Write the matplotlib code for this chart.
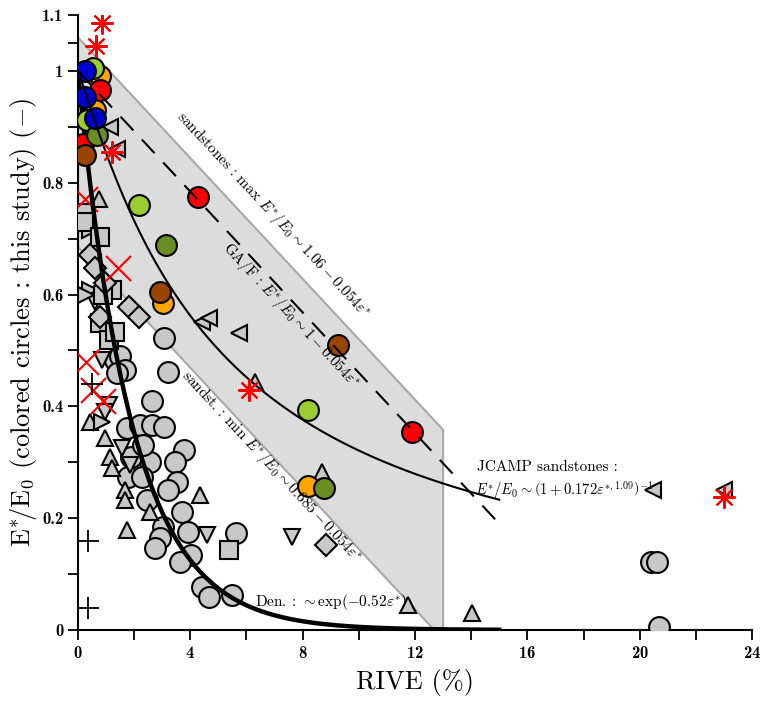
import numpy as np
import matplotlib
matplotlib.use("Agg")
from matplotlib import pyplot as plt
from matplotlib.patches import Polygon

plt.rcParams['font.family'] = 'cmr10'
plt.rcParams['mathtext.fontset'] = 'cm'
plt.rcParams['axes.formatter.use_mathtext'] = True

# this study (colored circles): RIVE (%) and E*/E0
blueX = [0.25, 0.25, 0.6]
blueY = [1.0, 0.953, 0.916]
lgreenX = [0.53, 0.32, 2.16, 8.19]
lgreenY = [1.005, 0.912, 0.76, 0.394]
orangeX = [0.78, 0.6, 3.01, 8.19]
orangeY = [0.99, 0.93, 0.585, 0.258]
redX = [0.78, 0.18, 4.29, 11.88]
redY = [0.966, 0.87, 0.775, 0.354]
dgreenX = [0.67, 3.12, 8.76]
dgreenY = [0.885, 0.689, 0.254]
brownX = [0.25, 2.91, 9.26]
brownY = [0.85, 0.605, 0.51]

# literature data (grey symbols)
circX = [1.31, 1.5, 1.67, 1.38, 3.07, 3.19, 2.62, 1.74, 2.2, 2.62, 3.05, 3.79, 3.44, 2.55,
         1.77, 2.27, 3.51, 3.19, 2.45, 3.72, 3.01, 3.9, 2.91, 2.73, 4.04, 3.62, 4.43, 4.68,
         5.5, 5.64, 20.4, 20.6, 20.7, 1.9, 2.3]
circY = [0.483, 0.49, 0.465, 0.46, 0.522, 0.462, 0.41, 0.361, 0.367, 0.367, 0.363, 0.322, 0.30, 0.30,
         0.274, 0.274, 0.265, 0.25, 0.233, 0.211, 0.184, 0.175, 0.164, 0.147, 0.134, 0.122, 0.077, 0.059,
         0.063, 0.173, 0.122, 0.122, 0.005, 0.31, 0.33]
triUpX = [0.74, 0.43, 0.96, 1.13, 1.67, 1.67, 1.74, 2.55, 4.33, 6.31, 8.69, 11.74, 14.04, 1.2]
triUpY = [0.77, 0.372, 0.343, 0.31, 0.25, 0.233, 0.179, 0.211, 0.241, 0.444, 0.283, 0.045, 0.03, 0.29]
triDownX = [0.6, 0.85, 1.1, 1.56, 1.84, 4.61, 7.62, 0.95]
triDownY = [0.587, 0.483, 0.402, 0.326, 0.295, 0.17, 0.166, 0.39]
triLeftX = [1.13, 1.38, 4.4, 4.68, 5.74, 20.46, 23.0]
triLeftY = [0.90, 0.86, 0.551, 0.558, 0.531, 0.25, 0.25]
triRightX = [0.43, 0.43, 0.85, 0.3]
triRightY = [0.716, 0.608, 0.372, 0.60]
sqX = [0.25, 0.2, 0.78, 1.2, 0.78, 1.1, 1.31, 5.39, 0.9]
sqY = [0.746, 0.73, 0.703, 0.608, 0.549, 0.519, 0.533, 0.143, 0.6]
diaX = [0.43, 0.6, 0.78, 1.81, 2.16, 8.83, 0.95]
diaY = [0.671, 0.648, 0.56, 0.578, 0.56, 0.152, 0.62]
starX = [0.85, 0.64, 1.2, 6.1, 23.0]
starY = [1.086, 1.045, 0.855, 0.43, 0.238]
crossX = [0.25, 1.42, 0.3, 0.55, 0.9]
crossY = [0.77, 0.648, 0.48, 0.43, 0.41]
plusX = [0.35, 0.35, 0.5]
plusY = [0.16, 0.04, 0.44]

# fits
maxA, minA, slope = 1.06, 0.685, 0.054
xEnd = 13
xFit = np.linspace(0, 15, 300)

fig = plt.figure(figsize=(7.63, 7.12), dpi=100)
ax = fig.add_axes([0.1022, 0.1152, 0.8834, 0.8638])

# sandstones envelope
poly = [(0, maxA), (xEnd, maxA - slope * xEnd), (xEnd, 0), (minA / slope, 0), (0, minA)]
ax.add_patch(Polygon(poly, closed=True, facecolor='#dcdcdc', edgecolor='#a8a8a8', lw=1.5, zorder=1))

grey = '#c8c8c8'
kw = dict(linestyle='none', markerfacecolor=grey, markeredgecolor='black', markeredgewidth=1.5, zorder=3)
ax.plot(circX, circY, 'o', markersize=15, **kw)
ax.plot(triUpX, triUpY, '^', markersize=12, **kw)
ax.plot(triDownX, triDownY, 'v', markersize=12, **kw)
ax.plot(triLeftX, triLeftY, '<', markersize=12, **kw)
ax.plot(triRightX, triRightY, '>', markersize=12, **kw)
ax.plot(sqX, sqY, 's', markersize=13, **kw)
ax.plot(diaX, diaY, 'D', markersize=11, **kw)

ax.plot(crossX, crossY, 'x', color='red', markersize=18, mew=1.5, zorder=4)
ax.plot(plusX, plusY, '+', color='black', markersize=16, mew=1.3, zorder=4)

# Den. fit sits under the coloured circles
ax.plot(xFit, np.exp(-0.52 * xFit), color='black', lw=3.2, zorder=4.5)

ck = dict(linestyle='none', marker='o', markersize=15, markeredgecolor='black', markeredgewidth=1.5, zorder=5)
ax.plot(orangeX, orangeY, markerfacecolor='#ffa500', **ck)
ax.plot(redX, redY, markerfacecolor='#ff0000', **ck)
ax.plot(lgreenX, lgreenY, markerfacecolor='#9acd32', **ck)
ax.plot(dgreenX, dgreenY, markerfacecolor='#6b8e23', **ck)
ax.plot(brownX, brownY, markerfacecolor='#994400', **ck)
ax.plot(blueX, blueY, markerfacecolor='#0000cc', **ck)

ax.plot(starX, starY, marker=(8, 2, 0), linestyle='none', color='red', markersize=16, mew=1.5, zorder=7)

ax.plot(xFit, 1 / (1 + 0.172 * xFit ** 1.09), color='black', lw=1.5, zorder=6)
ax.plot(xFit, 1 - slope * xFit, color='black', lw=1.5, dashes=(9, 6), zorder=6)

# annotations
ax.text(6.94, 0.742, r'sandstones : max $E^{*}/E_0 \sim 1.06 - 0.054\varepsilon^{*}$',
        rotation=-47, ha='center', va='center', fontsize=11, zorder=8)
ax.text(7.59, 0.563, r'GA/F : $E^{*}/E_0 \sim 1 - 0.054\varepsilon^{*}$',
        rotation=-47, ha='center', va='center', fontsize=11, zorder=8)
ax.text(6.9, 0.292, r'sandst. : min $E^{*}/E_0 \sim 0.685 - 0.054\varepsilon^{*}$',
        rotation=-47, ha='center', va='center', fontsize=11, zorder=8)
ax.text(6.3, 0.05, r'Den. : $\sim \exp(-0.52\varepsilon^{*})$', ha='left', va='center', fontsize=11, zorder=8)
ax.text(14.2, 0.292, 'JCAMP sandstones :', ha='left', va='center', fontsize=11, zorder=8)
ax.text(14.14, 0.25, r'$E^{*}/E_0 \sim \left(1 + 0.172\varepsilon^{*,1.09}\right)^{-1}$',
        ha='left', va='center', fontsize=10.5, zorder=8)

ax.set_xlim(0, 24)
ax.set_ylim(0, 1.1)
ax.set_xticks(np.arange(0, 25, 4))
ax.set_xticks(np.arange(0, 25, 2), minor=True)
ax.set_yticks([0, 0.2, 0.4, 0.6, 0.8, 1, 1.1])
ax.set_yticklabels(['0', '0.2', '0.4', '0.6', '0.8', '1', '1.1'])
ax.set_yticks(list(np.arange(0, 1.1, 0.1)) + [1.05], minor=True)
ax.tick_params(which='both', direction='out', length=7, width=1.3)
for lab in ax.get_xticklabels() + ax.get_yticklabels():
    lab.set_fontfamily('cmb10')
    lab.set_fontsize(12)

for s in ['top', 'right']:
    ax.spines[s].set_visible(False)
for s in ['left', 'bottom']:
    ax.spines[s].set_linewidth(1.5)

ax.set_xlabel('RIVE (%)', fontsize=19, labelpad=6)
ax.set_ylabel(r'$\mathrm{E}^{*}\!/\mathrm{E}_{0}$ (colored circles : this study) $(-)$', fontsize=19, labelpad=2)

fig.savefig('out.png', dpi=100)
